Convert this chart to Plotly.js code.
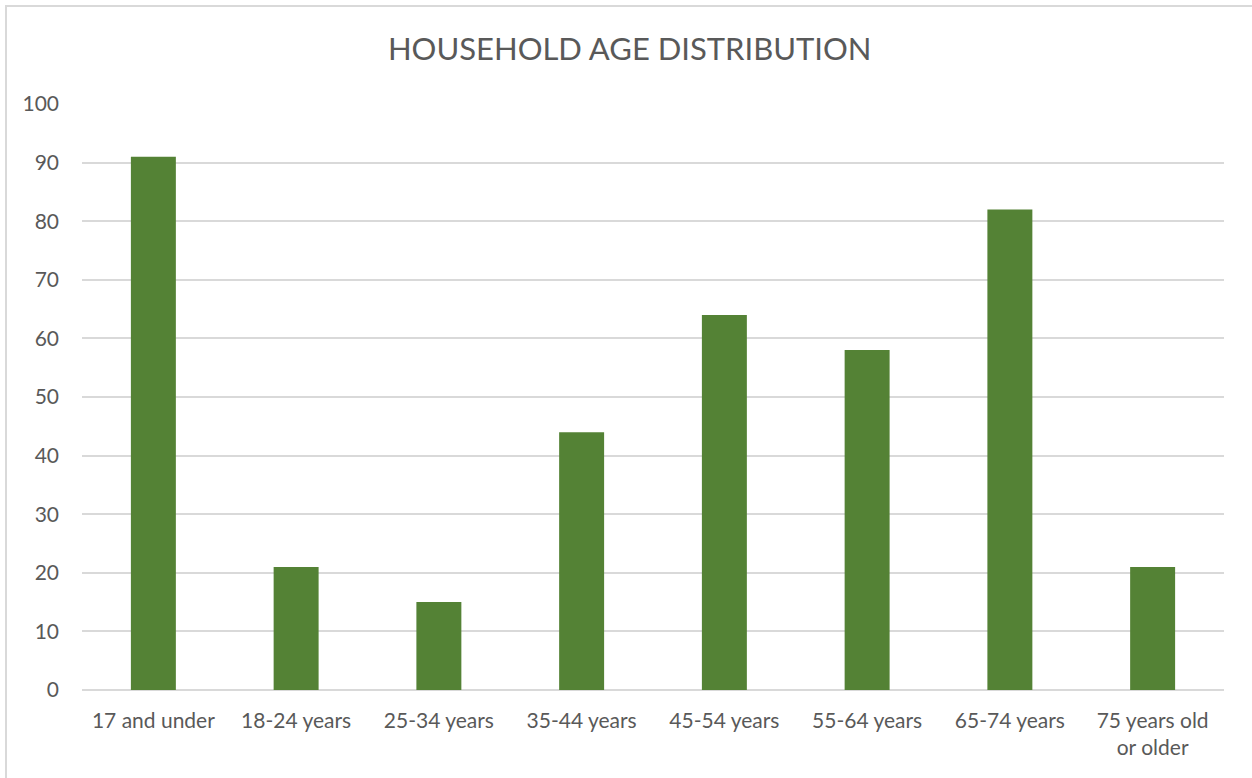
<!DOCTYPE html>
<html>
<head>
<meta charset="utf-8">
<script src="https://cdn.plot.ly/plotly-3.0.1.min.js"></script>
<style>
  html, body { margin: 0; padding: 0; background: #fff; }
  #chart { position: absolute; left: 0; top: 0; width: 1252px; height: 778px; }
  #frame { position: absolute; left: 5px; top: 5px; width: 1270px; height: 800px;
           border: 2px solid #d9d9d9; pointer-events: none; box-sizing: border-box; }
</style>
</head>
<body>
<div id="chart"></div>
<div id="frame"></div>
<script>
const categories = ["17 and under", "18-24 years", "25-34 years", "35-44 years",
                    "45-54 years", "55-64 years", "65-74 years", "75 years old<br>or older"];
const households = [91, 21, 15, 44, 64, 58, 82, 21];
const yTicks = [0, 10, 20, 30, 40, 50, 60, 70, 80, 90, 100];

const font = "Lato, 'Open Sans', sans-serif";

Plotly.newPlot("chart", [{
  type: "bar",
  x: categories,
  y: households,
  marker: { color: "#548235" },
  hoverinfo: "x+y"
}], {
  width: 1252, height: 778,
  margin: { l: 82, r: 28, t: 104, b: 88 },
  paper_bgcolor: "#fff", plot_bgcolor: "#fff",
  bargap: 0.685,
  showlegend: false,
  title: { text: "HOUSEHOLD AGE DISTRIBUTION", x: 0.503, xanchor: "center", y: 0.937, yanchor: "middle",
           font: { family: font, size: 31, color: "#595959" } },
  xaxis: {
    type: "category",
    tickfont: { family: font, size: 21, color: "#595959" },
    showline: false, showgrid: false, ticks: "",
    ticklabelstandoff: 16
  },
  yaxis: {
    range: [0, 100],
    tickvals: yTicks,
    tickfont: { family: font, size: 21, color: "#595959" },
    gridcolor: "#d9d9d9", gridwidth: 1.5,
    zeroline: true, zerolinecolor: "#d9d9d9", zerolinewidth: 1.5,
    showline: false, ticks: "",
    ticklabelstandoff: 22
  },
  font: { family: font, color: "#595959" }
}, { displayModeBar: false, staticPlot: false });
</script>
</body>
</html>
